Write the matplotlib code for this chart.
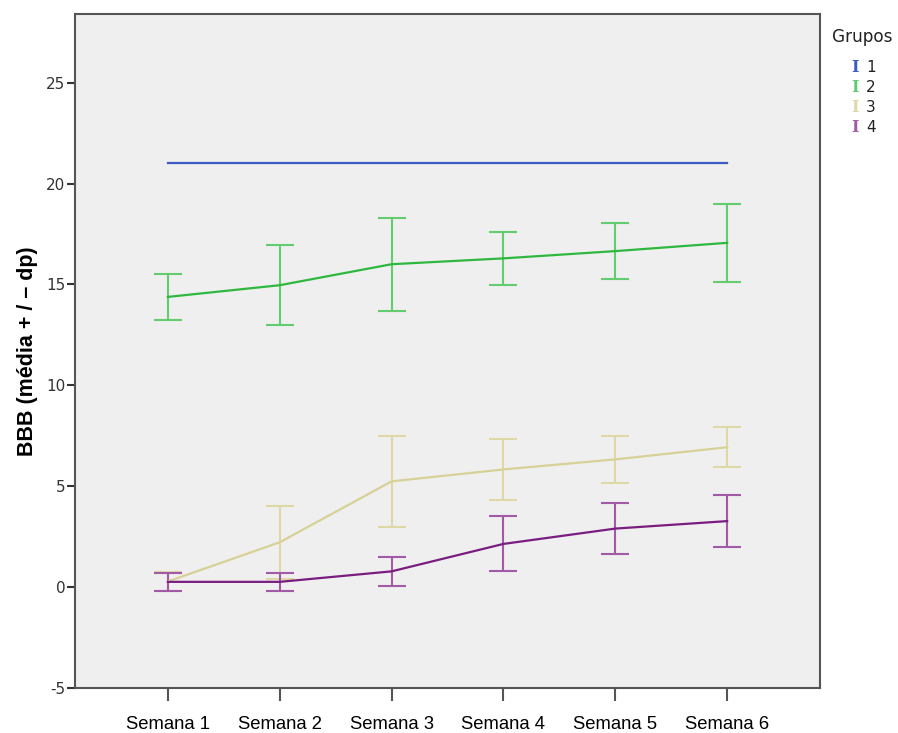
import matplotlib.pyplot as plt
import numpy as np

plt.rcParams["axes.unicode_minus"] = False

weeks = ["Semana 1", "Semana 2", "Semana 3", "Semana 4", "Semana 5", "Semana 6"]
groups = ["1", "2", "3", "4"]

# BBB score per group: mean and standard deviation per week
mean_g1 = [21.0, 21.0, 21.0, 21.0, 21.0, 21.0]
sd_g1 = [0.0, 0.0, 0.0, 0.0, 0.0, 0.0]
mean_g2 = [14.38, 14.96, 16.0, 16.29, 16.65, 17.06]
sd_g2 = [1.16, 1.99, 2.3, 1.3, 1.38, 1.92]
mean_g3 = [0.28, 2.22, 5.24, 5.83, 6.33, 6.93]
sd_g3 = [0.45, 1.82, 2.27, 1.49, 1.17, 1.0]
mean_g4 = [0.26, 0.26, 0.78, 2.14, 2.9, 3.27]
sd_g4 = [0.46, 0.46, 0.71, 1.36, 1.25, 1.28]

means = [mean_g1, mean_g2, mean_g3, mean_g4]
sds = [sd_g1, sd_g2, sd_g3, sd_g4]
line_colors = ["#3a5cc4", "#2fb83f", "#d8d197", "#7a1d80"]
bar_colors = ["#3a5cc4", "#62cc6e", "#ddd8a6", "#a35aa6"]

W, H = 898, 733
fig = plt.figure(figsize=(W / 100, H / 100), dpi=100)
ax = fig.add_axes([75 / W, 45 / H, 745 / W, 674 / H])
ax.set_facecolor("#efefef")

x = np.arange(len(weeks))
for m, s, lc, bc in zip(means, sds, line_colors, bar_colors):
    ax.plot(x, m, color=lc, lw=1.6, zorder=3)
    if any(v > 0 for v in s):
        ax.errorbar(x, m, yerr=s, fmt="none", ecolor=bc, elinewidth=1.5,
                    capsize=10, capthick=1.5, zorder=2)

ax.set_xlim(-0.83, 5.83)
ax.set_ylim(-5, 28.4)
ax.set_yticks([-5, 0, 5, 10, 15, 20, 25])
ax.set_xticks(x)
ax.set_xticklabels(weeks, fontsize=13.3, family="Liberation Sans")
for lab in ax.get_yticklabels():
    lab.set_fontsize(11)
    lab.set_color("#333333")
ax.tick_params(axis="y", length=6, width=1.5, color="#333333", pad=1)
ax.tick_params(axis="x", length=9, width=1.5, color="#555555", pad=11)

for sp in ax.spines.values():
    sp.set_color("#555555")
    sp.set_linewidth(1.5)

ax.set_ylabel("BBB (média + / – dp)", fontsize=15.5, fontweight="bold",
              family="Liberation Sans", labelpad=6)

# group key to the right of the plot
fig.text(832 / W, 1 - 37 / H, "Grupos", fontsize=12.2, color="#222222",
         va="center", ha="left")
for i, (g, c) in enumerate(zip(groups, line_colors)):
    yk = 1 - (67 + 20.3 * i) / H
    fig.text(855 / W, yk, "I", family="DejaVu Serif", fontsize=11.5,
             fontweight="bold", color=bar_colors[i] if i else c,
             va="center", ha="center")
    fig.text(866 / W, yk, g, fontsize=11, color="#222222", va="center", ha="left")

plt.savefig("out.png", dpi=100)
